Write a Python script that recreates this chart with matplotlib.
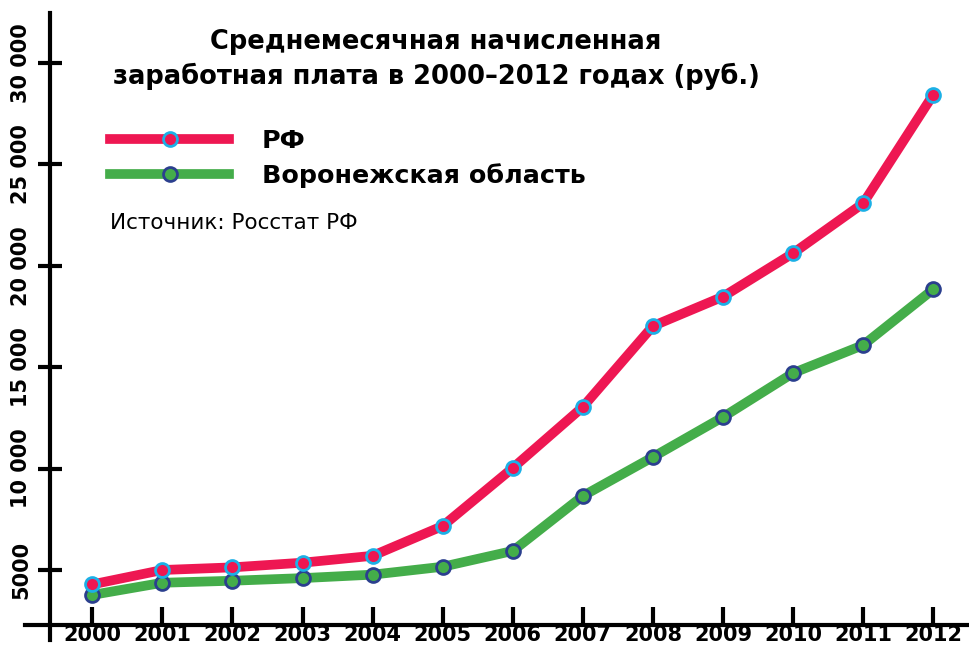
import matplotlib
matplotlib.use("Agg")
import matplotlib.pyplot as plt
from matplotlib.lines import Line2D

plt.rcParams['font.family'] = ['DejaVu Sans']

# --- данные ---
years = [2000, 2001, 2002, 2003, 2004, 2005, 2006, 2007, 2008, 2009, 2010, 2011, 2012]
rf = [4290, 5000, 5130, 5360, 5700, 7170, 10030, 13040, 17030, 18480, 20620, 23080, 28440]
voronezh = [3770, 4370, 4470, 4600, 4770, 5160, 5940, 8650, 10570, 12540, 14710, 16090, 18840]
yticks = [5000, 10000, 15000, 20000, 25000, 30000]
ytick_labels = ['5000', '10 000', '15 000', '20 000', '25 000', '30 000']

red, red_edge = '#ee1752', '#1cb0e6'
green, green_edge = '#44ad4a', '#2b3f8e'

fig = plt.figure(figsize=(9.69, 6.46), dpi=100)
ax = fig.add_axes([0, 0, 1, 1])
ax.set_xlim(1998.683, 2012.51)
ax.set_ylim(1252, 33107)

ax.plot(years, voronezh, color=green, lw=7, marker='o', ms=10,
        mfc=green, mec=green_edge, mew=2, solid_joinstyle='round', zorder=3)
ax.plot(years, rf, color=red, lw=7, marker='o', ms=10,
        mfc=red, mec=red_edge, mew=2, solid_joinstyle='round', zorder=4)

# оси
for s in ['top', 'right']:
    ax.spines[s].set_visible(False)
ax.spines['left'].set_position(('data', 1999.396))
ax.spines['left'].set_bounds(1548, 32470)
ax.spines['bottom'].set_position(('data', 2288))
ax.spines['bottom'].set_bounds(1999.04, 2012.51)
for s in ['left', 'bottom']:
    ax.spines[s].set_linewidth(3)

ax.set_xticks(years)
ax.set_xticklabels([str(y) for y in years], fontsize=15, fontweight='bold')
ax.tick_params(axis='x', direction='in', length=13, width=3, pad=0)
ax.set_yticks(yticks)
ax.set_yticklabels(ytick_labels, fontsize=15, fontweight='bold',
                   rotation=90, va='center')
ax.tick_params(axis='y', direction='inout', length=17, width=3, pad=5)

# заголовок
ax.text(0.45, 0.908, 'Среднемесячная начисленная\nзаработная плата в 2000–2012 годах (руб.)',
        transform=ax.transAxes, ha='center', va='center', fontsize=18.5,
        fontweight='bold', linespacing=1.35)

# легенда
handles = [
    Line2D([], [], color=red, lw=7, marker='o', ms=10, mfc=red, mec=red_edge, mew=2),
    Line2D([], [], color=green, lw=7, marker='o', ms=10, mfc=green, mec=green_edge, mew=2),
]
leg = ax.legend(handles, ['РФ', 'Воронежская область'], loc='upper left',
                bbox_to_anchor=(0.114, 0.801), frameon=False, handlelength=4.65,
                handletextpad=1.3, labelspacing=0.42, borderpad=0, borderaxespad=0,
                prop={'size': 18.3, 'weight': 'bold'}, numpoints=1)

ax.text(0.114, 0.655, 'Источник: Росстат РФ', transform=ax.transAxes,
        ha='left', va='center', fontsize=15.5)

fig.savefig('out.png', dpi=100)
